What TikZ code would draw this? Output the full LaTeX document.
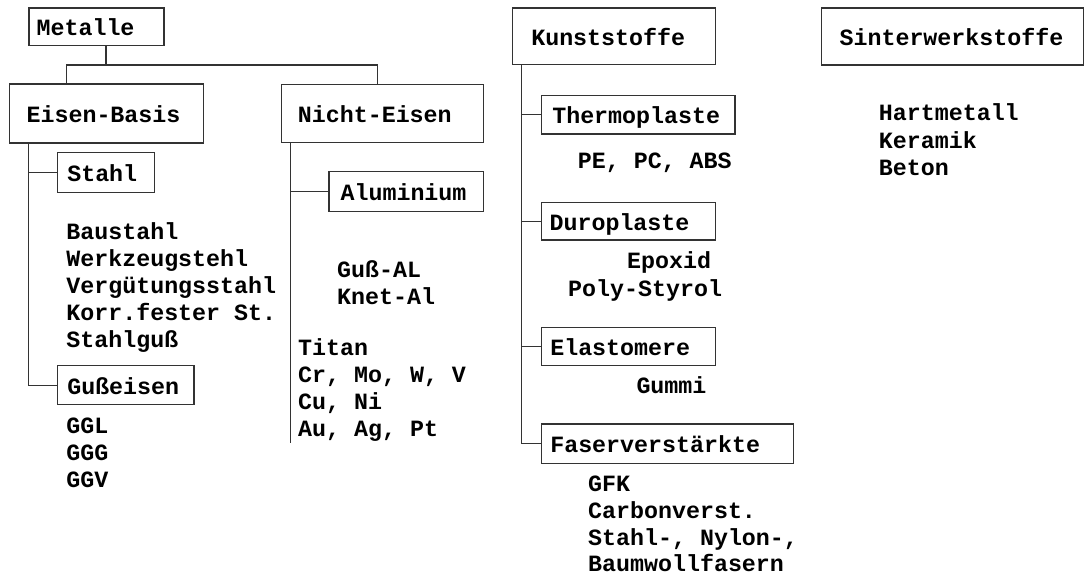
\documentclass[tikz,border=0pt]{standalone}
\usepackage{fontspec}
\setmainfont{Liberation Mono}
\newcommand\fsz{\fontsize{23.3}{27}\selectfont\bfseries}
\tikzset{
  ln/.style={draw=black!80, line width=1.2pt},
  box/.style={draw=black!80, line width=1.2pt, rectangle, anchor=north west,
    inner ysep=0pt, text height=18pt, text depth=0pt, align=left, font=\fsz},
  item/.style={anchor=base west, inner sep=0pt, font=\fsz},
}
\begin{document}
\begin{tikzpicture}[x=1pt,y=-1pt]
\useasboundingbox[fill=white] (0,0) rectangle (1084,579);
% boxes
\node[box, minimum height=37.7pt, inner xsep=7.7pt,  text width=119.6pt] (metalle) at (28.3,7.3)   {Metalle};
\node[box, minimum height=59pt,   inner xsep=17pt,   text width=159.7pt] (eisen)   at (9,83.3)     {Eisen-Basis};
\node[box, minimum height=57.7pt, inner xsep=16.6pt, text width=168.8pt] (nicht)   at (280.7,84)   {Nicht-Eisen};
\node[box, minimum height=40pt,   inner xsep=10pt,   text width=77.3pt]  (stahl)   at (56.7,151.7) {Stahl};
\node[box, minimum height=39.7pt, inner xsep=11.7pt, text width=131pt]   (alu)     at (328.3,171)  {Aluminium};
\node[box, minimum height=39pt,   inner xsep=10pt,   text width=116.6pt] (guss)    at (56.7,365)   {Gußeisen};
\node[box, minimum height=56.7pt, inner xsep=19pt,   text width=165.3pt] (kunst)   at (511.7,7.3)  {Kunststoffe};
\node[box, minimum height=38.3pt, inner xsep=11pt,   text width=171.6pt] (thermo)  at (540.7,95)   {Thermoplaste};
\node[box, minimum height=37.6pt, inner xsep=8.3pt,  text width=157.7pt] (duro)    at (540.7,201.7){Duroplaste};
\node[box, minimum height=38.3pt, inner xsep=9pt,    text width=156.3pt] (elast)   at (540.7,326.7){Elastomere};
\node[box, minimum height=39.4pt, inner xsep=9pt,    text width=234pt]   (faser)   at (540.7,423.3){Faserverstärkte};
\node[box, minimum height=57pt,   inner xsep=18pt,   text width=226pt]   (sinter)  at (821,7.3)    {Sinterwerkstoffe};
% text lists
\foreach \t [count=\i from 0] in {Baustahl,Werkzeugstehl,Vergütungsstahl,Korr.fester St.,Stahlguß}
  \node[item] (st\i) at (66.2,239.4+26.9*\i) {\t};
\foreach \t [count=\i from 0] in {GGL,GGG,GGV}
  \node[item] (gg\i) at (66.2,433.3+26.9*\i) {\t};
\foreach \t [count=\i from 0] in {Guß-AL,Knet-Al}
  \node[item] (al\i) at (337,277.3+27.5*\i) {\t};
\foreach \t [count=\i from 0] in {Titan,{Cr, Mo, W, V},{Cu, Ni},{Au, Ag, Pt}}
  \node[item] (ne\i) at (298,355.3+27.1*\i) {\t};
\node[item] (tp) at (577.7,168.3) {PE, PC, ABS};
\node[item] (dp1) at (627,268.3) {Epoxid};
\node[item] (dp2) at (568,296.7) {Poly-Styrol};
\node[item] (el) at (636.3,393.3) {Gummi};
\foreach \t [count=\i from 0] in {GFK,Carbonverst.,{Stahl-, Nylon-,},Baumwollfasern}
  \node[item] (fv\i) at (588,491.7+26.7*\i) {\t};
\foreach \t [count=\i from 0] in {Hartmetall,Keramik,Beton}
  \node[item] (si\i) at (878.7,120.7+27.6*\i) {\t};
% connectors
\coordinate (mj) at (106,65);
\coordinate (m1) at (66.7,65);
\coordinate (m2) at (377.5,65);
\coordinate (ex) at (28.3,0);
\coordinate (nx) at (290.7,443.3);
\coordinate (kx) at (521.7,443.3);
\draw[ln] (mj |- metalle.south) -- (mj);
\draw[ln] (m1 |- eisen.north) |- (m2) -- (m2 |- nicht.north);
\draw[ln] (ex |- eisen.south) |- (guss.west);
\draw[ln] (ex |- stahl.west) -- (stahl.west);
\draw[ln] (nx |- nicht.south) -- (nx);
\draw[ln] (nx |- alu.west) -- (alu.west);
\draw[ln] (kx |- kunst.south) |- (faser.west);
\draw[ln] (kx |- thermo.west) -- (thermo.west);
\draw[ln] (kx |- duro.west) -- (duro.west);
\draw[ln] (kx |- elast.west) -- (elast.west);
\end{tikzpicture}
\end{document}
